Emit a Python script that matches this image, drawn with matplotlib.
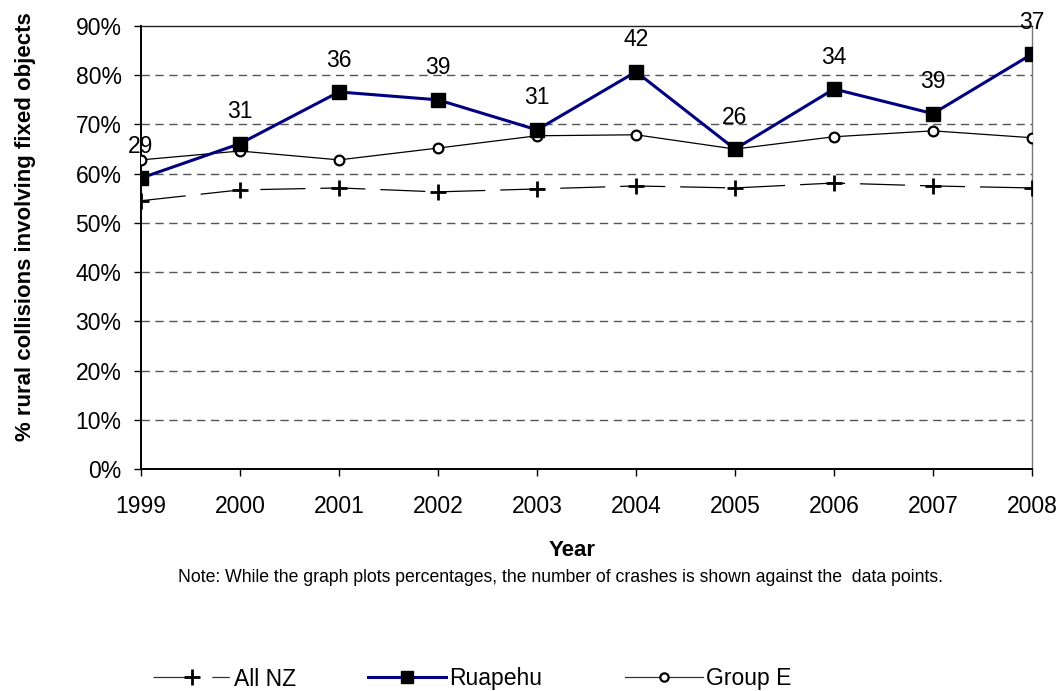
import matplotlib
matplotlib.use("Agg")
import matplotlib.pyplot as plt
from matplotlib.lines import Line2D
from matplotlib.ticker import FuncFormatter

plt.rcParams['font.family'] = ['Liberation Sans', 'DejaVu Sans']

years = [1999, 2000, 2001, 2002, 2003, 2004, 2005, 2006, 2007, 2008]
all_nz = [54.5, 56.7, 57.1, 56.3, 56.9, 57.5, 57.1, 58.1, 57.5, 57.1]
ruapehu = [59.1, 66.1, 76.6, 75.0, 68.9, 80.7, 65.0, 77.2, 72.2, 84.3]
group_e = [62.8, 64.6, 62.8, 65.2, 67.7, 67.9, 65.0, 67.5, 68.7, 67.3]
crash_counts = [29, 31, 36, 39, 31, 42, 26, 34, 39, 37]

W, H = 1061, 691
fig = plt.figure(figsize=(W / 100, H / 100), dpi=100)
ax = fig.add_axes([141 / W, 1 - 469 / H, (1032 - 141) / W, (469 - 26) / H])

# grid
for v in range(10, 90, 10):
    ax.axhline(v, color='#555555', lw=1, ls=(0, (6, 4)), zorder=1)

nz_style = dict(color='black', lw=0.9, ls=(0, (36, 12)), marker='+', ms=11, mew=2)
ge_style = dict(color='black', lw=0.9, marker='o', ms=7, mfc='white', mec='black', mew=1.6)
ru_style = dict(color='#000080', lw=2.2, marker='s', ms=9.5, mfc='black', mec='black')

ax.plot(years, all_nz, zorder=3, **nz_style)
ax.plot(years, group_e, zorder=3, **ge_style)
ax.plot(years, ruapehu, zorder=4, **ru_style)

for x, y, c in zip(years, ruapehu, crash_counts):
    ax.annotate(str(c), (x, y), xytext=(0, 23), textcoords='offset points',
                ha='center', va='center', fontsize=16.5, zorder=5)

ax.set_xlim(1999, 2008)
ax.set_ylim(0, 90)
ax.set_yticks(range(0, 100, 10))
ax.yaxis.set_major_formatter(FuncFormatter(lambda v, p: f"{int(v)}%"))
ax.set_xticks(years)
ax.tick_params(axis='both', labelsize=16.5, direction='out', length=5, width=1, color='black')
ax.tick_params(axis='x', pad=14)
ax.tick_params(axis='y', pad=9)

for side in ['top', 'right']:
    ax.spines[side].set_linewidth(1)
ax.spines['top'].set_color('#222222')
ax.spines['right'].set_color('#777777')
ax.spines['left'].set_color('black')
ax.spines['bottom'].set_color('black')
ax.spines['left'].set_linewidth(1.4)
ax.spines['bottom'].set_linewidth(1.4)

ax.set_ylabel('% rural collisions involving fixed objects', fontsize=16,
              fontweight='bold')
ax.yaxis.set_label_coords((36 - 141) / 891, (469 - 227) / 443)

fig.text(572 / W, 1 - 550 / H, 'Year', ha='center', va='center',
         fontsize=16, fontweight='bold')
fig.text(561 / W, 1 - 577 / H,
         'Note: While the graph plots percentages, the number of crashes is shown against the  data points.',
         ha='center', va='center', fontsize=12.7)

legend_items = [
    (153, 'All NZ', Line2D([0], [0], color='#333333', lw=0.9, ls=(0, (30, 17, 14, 60)),
                           marker='+', ms=11, mew=2, mec='black')),
    (368, 'Ruapehu', Line2D([0], [0], color='#000080', lw=2.2, marker='s', ms=9, mfc='black', mec='black')),
    (625, 'Group E', Line2D([0], [0], color='#333333', lw=0.9, marker='o', ms=6, mfc='white', mec='black', mew=1.6)),
]
for xpix, lab, h in legend_items:
    fig.legend([h], [lab], loc='center left', bbox_to_anchor=(xpix / W, 1 - 679 / H),
               frameon=False, fontsize=16.5, handlelength=3.4, handletextpad=0.15,
               borderpad=0, borderaxespad=0)

fig.savefig('out.png', dpi=100)
